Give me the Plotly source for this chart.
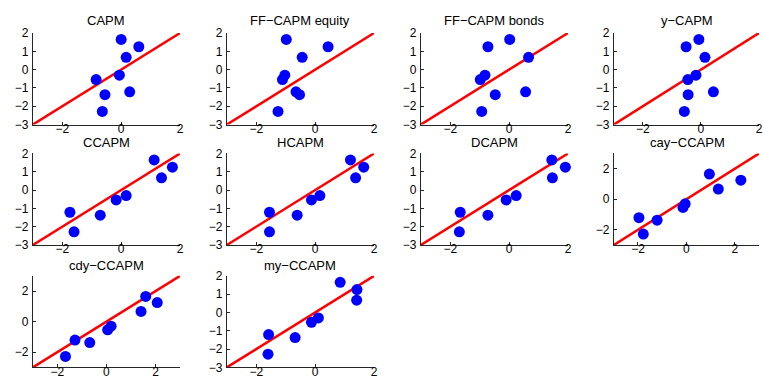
import plotly.graph_objects as go

W, H = 763, 385

titles = ["CAPM", "FF\u2212CAPM equity", "FF\u2212CAPM bonds", "y\u2212CAPM",
          "CCAPM", "HCAPM", "DCAPM", "cay\u2212CCAPM",
          "cdy\u2212CCAPM", "my\u2212CCAPM"]

# realized (actual) mean returns, same in every panel
actual = [1.65, 1.25, 0.67, -0.30, -0.54, -1.21, -1.37, -2.28]

# model-predicted values
capm      = [0.00, 0.60, 0.17, -0.06, -0.85, 0.29, -0.55, -0.64]
ff_equity = [-0.98, 0.44, -0.44, -1.03, -1.11, -0.65, -0.53, -1.26]
ff_bonds  = [0.02, -0.72, 0.66, -0.82, -0.98, 0.56, -0.47, -0.93]
y_capm    = [-0.07, -0.51, 0.14, -0.17, -0.45, 0.43, -0.44, -0.57]
ccapm     = [1.12, 1.74, 1.37, 0.17, -0.17, -1.74, -0.71, -1.60]
hcapm     = [1.20, 1.65, 1.375, 0.16, -0.125, -1.55, -0.61, -1.55]
dcapm     = [1.45, 1.91, 1.47, 0.24, -0.10, -1.66, -0.72, -1.69]
cay_ccapm = [0.95, 2.25, 1.32, -0.05, -0.14, -1.96, -1.21, -1.78]
cdy_ccapm = [1.60, 2.07, 1.41, 0.19, 0.05, -1.28, -0.68, -1.67]
my_ccapm  = [0.85, 1.42, 1.41, 0.11, -0.125, -1.58, -0.68, -1.60]

predicted = [capm, ff_equity, ff_bonds, y_capm, ccapm, hcapm, dcapm,
             cay_ccapm, cdy_ccapm, my_ccapm]

# axis limits per panel
lims = [[-3, 2]] * 7 + [[-3, 3], [-3, 3], [-3, 2]]
yticks_small = [-3, -2, -1, 0, 1, 2]
yticks_big = [-2, 0, 2]
xticks = [-2, 0, 2]

# pixel layout
col_left = [33, 228, 423, 617]
col_w = 148
row_top = [27, 152, 279]
row_h = 95
title_y = [14, 141, 268]

fig = go.Figure()
font = dict(family="Liberation Sans, Arial, sans-serif", size=12, color="black")
annotations = []

for i in range(10):
    r, c = divmod(i, 4)
    n = i + 1
    xa = "xaxis" if n == 1 else f"xaxis{n}"
    ya = "yaxis" if n == 1 else f"yaxis{n}"
    xr = "x" if n == 1 else f"x{n}"
    yr = "y" if n == 1 else f"y{n}"
    x0 = col_left[c] / W
    x1 = min((col_left[c] + col_w) / W, 1.0)
    y0 = 1 - (row_top[r] + row_h) / H
    y1 = 1 - row_top[r] / H
    lo, hi = lims[i]
    yt = yticks_big if hi == 3 else yticks_small

    fig.add_trace(go.Scatter(x=[lo, hi], y=[lo, hi], mode="lines",
                             line=dict(color="#ff0000", width=2.5),
                             xaxis=xr, yaxis=yr, showlegend=False,
                             hoverinfo="skip"))
    fig.add_trace(go.Scatter(x=predicted[i], y=actual, mode="markers",
                             marker=dict(color="#0000ff", size=11,
                                         line=dict(width=0)),
                             xaxis=xr, yaxis=yr, showlegend=False,
                             cliponaxis=False))

    common = dict(showgrid=False, zeroline=False, showline=True,
                  linecolor="#262626", linewidth=1, ticks="inside",
                  ticklen=3, tickcolor="#262626", tickfont=font,
                  fixedrange=True)
    fig.update_layout(**{
        xa: dict(domain=[x0, x1], range=[lo, hi], tickvals=xticks,
                 anchor=yr, ticklabelstandoff=-7, **common),
        ya: dict(domain=[y0, y1], range=[lo, hi], tickvals=yt,
                 anchor=xr, ticklabelstandoff=1, **common),
    })
    annotations.append(dict(text=titles[i], x=(col_left[c] + col_w / 2) / W,
                            y=1 - title_y[r] / H, xref="paper", yref="paper",
                            xanchor="center", yanchor="middle",
                            showarrow=False,
                            font=dict(family="Liberation Sans, Arial, sans-serif",
                                      size=13, color="black")))

fig.update_layout(width=W, height=H, margin=dict(l=0, r=0, t=0, b=0),
                  paper_bgcolor="white", plot_bgcolor="white",
                  annotations=annotations, showlegend=False)

fig.write_html("out.html")
